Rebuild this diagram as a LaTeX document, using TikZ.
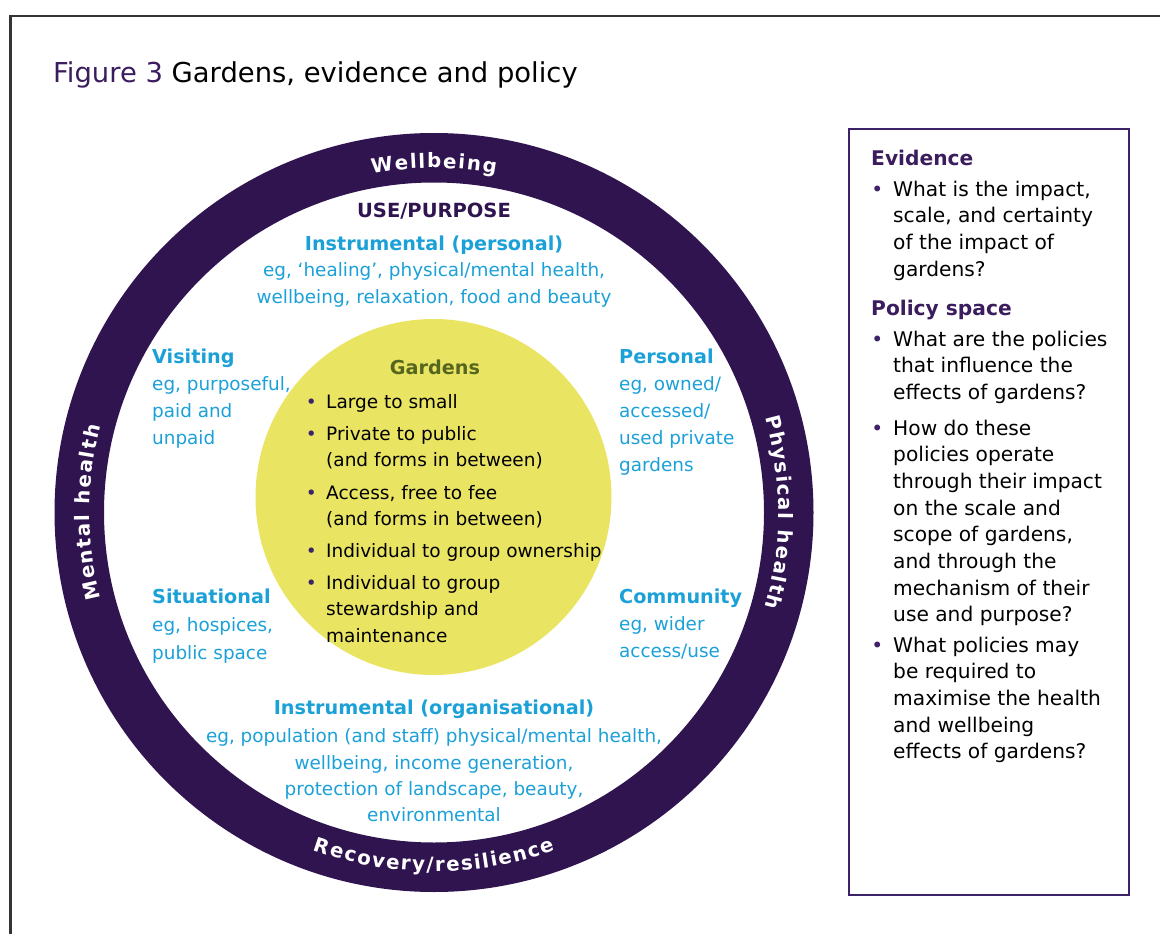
\documentclass[tikz,border=0pt]{standalone}
\usepackage{fontspec}
\setmainfont{DejaVu Sans}
\usetikzlibrary{decorations.text,calc}
\definecolor{ringpurple}{HTML}{2F1450}
\definecolor{figpurple}{HTML}{3B1D5E}
\definecolor{boxpurple}{HTML}{3C2268}
\definecolor{cyantext}{HTML}{1BA0D8}
\definecolor{gardyellow}{HTML}{EAE463}
\definecolor{gardolive}{HTML}{56661F}
\definecolor{framegray}{HTML}{333333}
\newcommand\bul[1]{\llap{\textcolor{boxpurple}{\textbullet}\hspace{#1}}}
\newcommand\hd[1]{{\fontsize{19.2}{27}\selectfont\bfseries #1}}
\begin{document}
\begin{tikzpicture}[x=1pt,y=1pt,
  cyanblock/.style={inner sep=0pt, text=cyantext, font=\fontsize{18.4}{27}\selectfont, align=left, anchor=base west},
  gtext/.style={inner sep=0pt, text=black, font=\fontsize{18.5}{26.5}\selectfont, align=left, anchor=base west},
  boxtext/.style={inner sep=0pt, text=black, font=\fontsize{20.2}{26.7}\selectfont, align=left, anchor=base west},
  boxhead/.style={inner sep=0pt, text=figpurple, font=\fontsize{20.2}{26.7}\selectfont\bfseries, anchor=base west},
  ringtext/.style={decorate, decoration={text along path, text align=center, text color=white,
      text={|\bfseries\fontsize{19.8}{22}\selectfont|#1}}}
]
\useasboundingbox (0,0) rectangle (1160,-934);
% outer frame
\draw[line width=2.5, framegray] (10.5,-934) -- (10.5,-16) -- (1160,-16);

% title
\node[anchor=base west, inner sep=0pt, font=\fontsize{27.4}{30}\selectfont] (title) at (53,-83)
  {\textcolor{figpurple}{Figure 3} Gardens, evidence and policy};

% ring
\coordinate (C) at (434,-512.5);
\fill[ringpurple, even odd rule] (C) circle[radius=379.5] (C) circle[radius=330];
\path[ringtext={{W\kern1.6pt}{e\kern1.6pt}{l\kern1.6pt}{l\kern1.6pt}{b\kern1.6pt}{e\kern1.6pt}{i\kern1.6pt}{n\kern1.6pt}{g}}]
  ($(C)+(130:344.5)$) arc[start angle=130, end angle=50, radius=344.5];
\path[ringtext={{M\kern1.6pt}{e\kern1.6pt}{n\kern1.6pt}{t\kern1.6pt}{a\kern1.6pt}{l\kern1.6pt}{\ \kern1.6pt}{h\kern1.6pt}{e\kern1.6pt}{a\kern1.6pt}{l\kern1.6pt}{t\kern1.6pt}{h}}]
  ($(C)+(215:344.5)$) arc[start angle=215, end angle=145, radius=344.5];
\path[ringtext={{P\kern1.6pt}{h\kern1.6pt}{y\kern1.6pt}{s\kern1.6pt}{i\kern1.6pt}{c\kern1.6pt}{a\kern1.6pt}{l\kern1.6pt}{\ \kern1.6pt}{h\kern1.6pt}{e\kern1.6pt}{a\kern1.6pt}{l\kern1.6pt}{t\kern1.6pt}{h}}]
  ($(C)+(35:344.5)$) arc[start angle=35, end angle=-35, radius=344.5];
\path[ringtext={{R\kern1.6pt}{e\kern1.6pt}{c\kern1.6pt}{o\kern1.6pt}{v\kern1.6pt}{e\kern1.6pt}{r\kern1.6pt}{y\kern1.6pt}{/\kern1.6pt}{r\kern1.6pt}{e\kern1.6pt}{s\kern1.6pt}{i\kern1.6pt}{l\kern1.6pt}{i\kern1.6pt}{e\kern1.6pt}{n\kern1.6pt}{c\kern1.6pt}{e}}]
  ($(C)+(220:359)$) arc[start angle=220, end angle=320, radius=359];

% gardens circle
\node[circle, fill=gardyellow, minimum size=356, inner sep=0pt] (garden) at (433.5,-497) {};
\node[anchor=base, inner sep=0pt, text=gardolive, font=\fontsize{19.2}{26}\selectfont\bfseries] (gt) at (435,-374) {Gardens};
\node[gtext] (g1) at (326,-408) {\bul{9.5pt}Large to small};
\node[gtext] (g2) at (326,-466.5) {\bul{9.5pt}Private to public\\(and forms in between)};
\node[gtext] (g3) at (326,-525.5) {\bul{9.5pt}Access, free to fee\\(and forms in between)};
\node[gtext] (g4) at (326,-557) {\bul{9.5pt}Individual to group ownership};
\node[gtext] (g5) at (326,-642) {\bul{9.5pt}Individual to group\\stewardship and\\maintenance};

% use/purpose
\node[anchor=base, inner sep=0pt, text=ringpurple, font=\fontsize{19.5}{26}\selectfont\bfseries] (use) at (434,-217) {USE/PURPOSE};
\node[cyanblock, align=center, anchor=base, font=\fontsize{18.4}{26.5}\selectfont] (instp) at (434,-303)
  {\hd{Instrumental (personal)}\\eg, ‘healing’, physical/mental health,\\wellbeing, relaxation, food and beauty};
\node[cyanblock] (visit) at (152,-444) {\hd{Visiting}\\eg, purposeful,\\paid and\\unpaid};
\node[cyanblock] (pers) at (619,-471) {\hd{Personal}\\eg, owned/\\accessed/\\used private\\gardens};
\node[cyanblock, font=\fontsize{18.4}{28}\selectfont] (situ) at (152,-659) {\hd{Situational}\\eg, hospices,\\public space};
\node[cyanblock, font=\fontsize{18.4}{27}\selectfont] (comm) at (619,-657) {\hd{Community}\\eg, wider\\access/use};
\node[cyanblock, align=center, anchor=base, font=\fontsize{18.4}{26.3}\selectfont] (insto) at (434,-821.7)
  {\hd{Instrumental (organisational)}\\[2.5pt]eg, population (and staff) physical/mental health,\\wellbeing, income generation,\\protection of landscape, beauty,\\environmental};

% right box
\node[draw=boxpurple, line width=2, minimum width=280, minimum height=766, inner sep=0pt, anchor=north west] (box) at (848,-128) {};
\node[boxhead] (evh) at (871,-165) {Evidence};
\node[boxtext] (ev1) at (893,-276.1) {\bul{10pt}What is the impact,\\scale, and certainty\\of the impact of\\gardens?};
\node[boxhead] (psh) at (871,-315) {Policy space};
\node[boxtext] (ps1) at (893,-399.4) {\bul{10pt}What are the policies\\that influence the\\effects of gardens?};
\node[boxtext] (ps2) at (893,-621.9) {\bul{10pt}How do these\\policies operate\\through their impact\\on the scale and\\scope of gardens,\\and through the\\mechanism of their\\use and purpose?};
\node[boxtext] (ps3) at (893,-758.8) {\bul{10pt}What policies may\\be required to\\maximise the health\\and wellbeing\\effects of gardens?};
\end{tikzpicture}
\end{document}
